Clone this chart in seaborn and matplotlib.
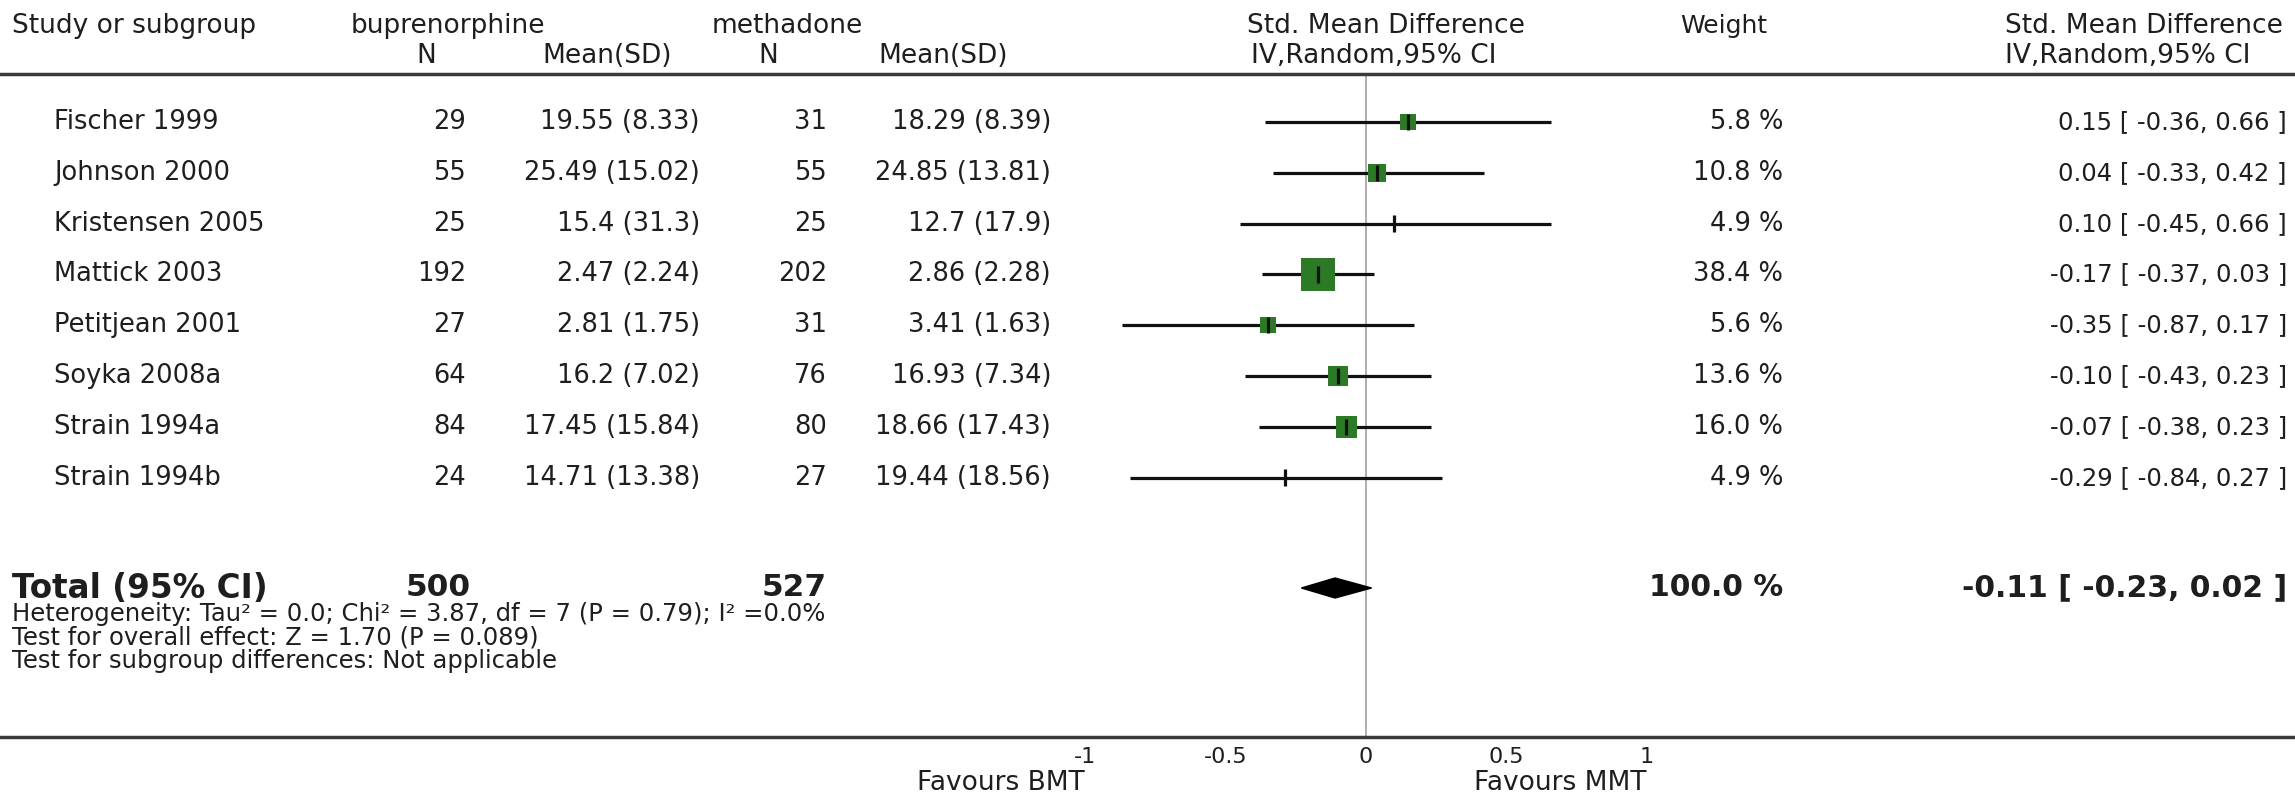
import numpy as np
import pandas as pd
import seaborn as sns
import matplotlib.pyplot as plt
from matplotlib.transforms import blended_transform_factory

studies = ["Fischer 1999", "Johnson 2000", "Kristensen 2005", "Mattick 2003",
           "Petitjean 2001", "Soyka 2008a", "Strain 1994a", "Strain 1994b"]
bup_n = [29, 55, 25, 192, 27, 64, 84, 24]
bup_mean_sd = ["19.55 (8.33)", "25.49 (15.02)", "15.4 (31.3)", "2.47 (2.24)",
               "2.81 (1.75)", "16.2 (7.02)", "17.45 (15.84)", "14.71 (13.38)"]
met_n = [31, 55, 25, 202, 31, 76, 80, 27]
met_mean_sd = ["18.29 (8.39)", "24.85 (13.81)", "12.7 (17.9)", "2.86 (2.28)",
               "3.41 (1.63)", "16.93 (7.34)", "18.66 (17.43)", "19.44 (18.56)"]
smd = [0.15, 0.04, 0.10, -0.17, -0.35, -0.10, -0.07, -0.29]
ci_low = [-0.36, -0.33, -0.45, -0.37, -0.87, -0.43, -0.38, -0.84]
ci_high = [0.66, 0.42, 0.66, 0.03, 0.17, 0.23, 0.23, 0.27]
weight = [5.8, 10.8, 4.9, 38.4, 5.6, 13.6, 16.0, 4.9]
total_n = [500, 527]
total_est = [-0.11, -0.23, 0.02]  # smd, low, high
total_weight = 100.0
xticks = [-1, -0.5, 0, 0.5, 1]
xtick_labels = ["-1", "-0.5", "0", "0.5", "1"]
stats_lines = [
    "Heterogeneity: Tau\u00b2 = 0.0; Chi\u00b2 = 3.87, df = 7 (P = 0.79); I\u00b2 =0.0%",
    "Test for overall effect: Z = 1.70 (P = 0.089)",
    "Test for subgroup differences: Not applicable",
]

sns.set_style("white")
plt.rcParams["font.family"] = ["DejaVu Sans"]
txt = "#1e1e1e"
green = "#2d7a26"

W, H = 2295, 795
fig = plt.figure(figsize=(W / 100, H / 100), dpi=100)


def fx(px):
    return px / W


def fy(py):
    return 1 - py / H


# forest axes: spans full width, header line = top spine, axis line = bottom spine
top_px, bot_px = 74, 737
row0_px, row_step = 122, 50.8
ax = fig.add_axes([0, fy(bot_px), 1, (bot_px - top_px) / H])
zero_px, unit_px = 1366, 281
ax.set_xlim(-zero_px / unit_px, (W - zero_px) / unit_px)
ax.set_ylim((bot_px - row0_px) / row_step, (top_px - row0_px) / row_step)

df = pd.DataFrame({"study": studies, "smd": smd, "low": ci_low, "high": ci_high,
                   "weight": weight, "row": np.arange(len(studies))})
side = np.where(df["weight"] >= 5, np.maximum(16, 5.4 * np.sqrt(df["weight"])), 0)
df["area"] = (side * 0.72) ** 2
amax = df["area"].max()

ax.axvline(0, color="#a8a8a8", lw=1.3, zorder=1)
ax.hlines(df["row"], df["low"], df["high"], color="#111111", lw=2.3, zorder=2)
sns.scatterplot(data=df[df["area"] > 0], x="smd", y="row", size="area",
                sizes=(0, amax), size_norm=(0, amax), marker="s", color=green,
                edgecolor="none", legend=False, ax=ax, zorder=3)
ax.vlines(df["smd"], df["row"] - 0.16, df["row"] + 0.16, color="#111111", lw=2.3, zorder=4)

total_row = (588 - row0_px) / row_step
d = 10 / row_step
ax.fill([total_est[1], total_est[0], total_est[2], total_est[0]],
        [total_row, total_row - d, total_row, total_row + d], color="black", zorder=4)

for s in ["left", "right"]:
    ax.spines[s].set_visible(False)
for s in ["top", "bottom"]:
    ax.spines[s].set_color("#3a3a3a")
    ax.spines[s].set_linewidth(2.5)
ax.set_yticks([])
ax.set_xticks(xticks)
ax.set_xticklabels(xtick_labels)
ax.tick_params(axis="x", direction="in", length=7, width=1.5, labelsize=16,
               pad=7, colors=txt, top=False)
ax.set_xlabel("")
ax.set_ylabel("")

# table text
tr = blended_transform_factory(fig.transFigure, ax.transData)
fs = 18.5
for i in range(len(studies)):
    ax.text(fx(54), i, studies[i], transform=tr, ha="left", va="center", fontsize=fs, color=txt)
    ax.text(fx(466), i, str(bup_n[i]), transform=tr, ha="right", va="center", fontsize=fs, color=txt)
    ax.text(fx(700), i, bup_mean_sd[i], transform=tr, ha="right", va="center", fontsize=fs, color=txt)
    ax.text(fx(827), i, str(met_n[i]), transform=tr, ha="right", va="center", fontsize=fs, color=txt)
    ax.text(fx(1051), i, met_mean_sd[i], transform=tr, ha="right", va="center", fontsize=fs, color=txt)
    ax.text(fx(1783), i, f"{weight[i]:.1f} %", transform=tr, ha="right", va="center", fontsize=fs, color=txt)
    ax.text(fx(2287), i, f"{smd[i]:.2f} [ {ci_low[i]:.2f}, {ci_high[i]:.2f} ]", transform=tr,
            ha="right", va="center", fontsize=17.5, color=txt)

fb = 21.5
ax.text(fx(12), total_row, "Total (95% CI)", transform=tr, ha="left", va="center",
        fontsize=23.5, fontweight="bold", color=txt)
ax.text(fx(471), total_row, str(total_n[0]), transform=tr, ha="right", va="center",
        fontsize=fb + 1, fontweight="bold", color=txt)
ax.text(fx(827), total_row, str(total_n[1]), transform=tr, ha="right", va="center",
        fontsize=fb + 1, fontweight="bold", color=txt)
ax.text(fx(1783), total_row, f"{total_weight:.1f} %", transform=tr, ha="right", va="center",
        fontsize=fb, fontweight="bold", color=txt)
ax.text(fx(2287), total_row, f"{total_est[0]:.2f} [ {total_est[1]:.2f}, {total_est[2]:.2f} ]",
        transform=tr, ha="right", va="center", fontsize=fb, fontweight="bold", color=txt)

for k, line in enumerate(stats_lines):
    fig.text(fx(12), fy(614 + 23.5 * k), line, ha="left", va="center", fontsize=17.5, color=txt)

# headers
hs = 19
fig.text(fx(12), fy(26), "Study or subgroup", ha="left", va="center", fontsize=hs, color=txt)
fig.text(fx(351), fy(26), "buprenorphine", ha="left", va="center", fontsize=hs, color=txt)
fig.text(fx(426), fy(56), "N", ha="center", va="center", fontsize=hs, color=txt)
fig.text(fx(542), fy(56), "Mean(SD)", ha="left", va="center", fontsize=hs, color=txt)
fig.text(fx(712), fy(26), "methadone", ha="left", va="center", fontsize=hs, color=txt)
fig.text(fx(768), fy(56), "N", ha="center", va="center", fontsize=hs, color=txt)
fig.text(fx(878), fy(56), "Mean(SD)", ha="left", va="center", fontsize=hs, color=txt)
fig.text(fx(1386), fy(26), "Std. Mean Difference", ha="center", va="center", fontsize=hs, color=txt)
fig.text(fx(1374), fy(56), "IV,Random,95% CI", ha="center", va="center", fontsize=hs, color=txt)
fig.text(fx(1724), fy(26), "Weight", ha="center", va="center", fontsize=18, color=txt)
fig.text(fx(2005), fy(26), "Std. Mean Difference", ha="left", va="center", fontsize=hs, color=txt)
fig.text(fx(2005), fy(56), "IV,Random,95% CI", ha="left", va="center", fontsize=hs, color=txt)

# favours labels
trf = blended_transform_factory(ax.transData, fig.transFigure)
ax.text(-1, fy(783), "Favours BMT", transform=trf, ha="right", va="center", fontsize=19, color=txt)
ax.text(1, fy(783), "Favours MMT", transform=trf, ha="right", va="center", fontsize=19, color=txt)

fig.savefig("out.png", dpi=100, facecolor="white")
